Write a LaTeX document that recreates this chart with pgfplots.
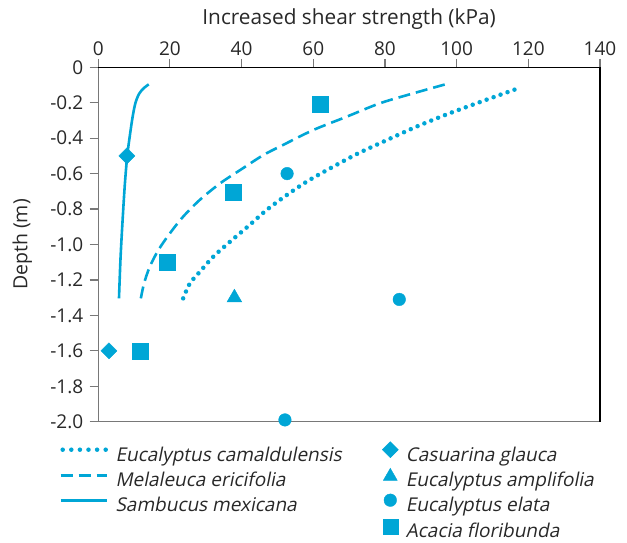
\documentclass[border=0pt]{standalone}
\usepackage{fontspec}
\setmainfont{Open Sans}
\newfontfamily\legfont[FakeSlant=0.2]{Open Sans}
\usepackage{pgfplots}
\pgfplotsset{compat=1.18}
\definecolor{cy}{RGB}{0,166,214}
\definecolor{txt}{RGB}{40,40,40}
\definecolor{ax}{RGB}{120,120,120}
\pgfplotsset{
  lineimg/.style={legend image code/.code={\draw[##1] (0pt,6.7pt) -- (46pt,6.7pt);}},
  dotimg/.style={legend image code/.code={\draw[##1] (2pt,6.7pt) -- (46pt,6.7pt);}},
  markimg/.style={legend image code/.code={\path (0pt,0pt) (16pt,0pt); \draw[##1] plot coordinates {(8pt,6.7pt)};}},
  triimg/.style={legend image code/.code={\path (0pt,0pt) (16pt,0pt); \draw[##1] plot coordinates {(8pt,5.7pt)};}},
}
\begin{document}
\begin{tikzpicture}
\useasboundingbox (0,0) rectangle (627pt,543pt);
\begin{axis}[
  at={(98.2pt,121.3pt)}, anchor=south west,
  scale only axis, width=501.8pt, height=354.4pt,
  xmin=0, xmax=140, ymin=-2, ymax=0,
  clip=false,
  xtick={0,20,40,60,80,100,120,140},
  ytick={-2,-1.8,-1.6,-1.4,-1.2,-1,-0.8,-0.6,-0.4,-0.2,0},
  yticklabels={-2.0,-1.8,-1.6,-1.4,-1.2,-1.0,-0.8,-0.6,-0.4,-0.2,0},
  xtick pos=upper, xticklabel pos=upper,
  ytick pos=left, yticklabel pos=left,
  tick align=outside, major tick length=8.5pt,
  every tick/.style={ax, line width=1.2pt},
  axis line style={ax, line width=1.3pt},
  ticklabel style={font=\fontsize{19}{21}\selectfont, text=txt},
  yticklabel style={xshift=-3pt},
  /pgf/number format/assume math mode=true,
  xlabel={Increased shear strength (kPa)},
  ylabel={Depth (m)},
  every axis x label/.style={at={(axis description cs:0.5,1)}, yshift=42.3pt, anchor=base,
    font=\fontsize{20.8}{23}\selectfont, text=txt},
  every axis y label/.style={at={(axis description cs:0,0.5)}, xshift=-76pt, rotate=90, anchor=center,
    font=\fontsize{19.5}{22}\selectfont, text=txt},
  legend style={draw=none, fill=none, at={(axis description cs:0,0)}, anchor=north west,
    xshift=-38.8pt, yshift=-20pt, inner sep=0pt, outer sep=0pt, row sep=3.2pt,
    font=\fontsize{19}{21}\legfont, text=txt,
    nodes={inner sep=0pt, text height=13.4pt, text depth=4pt},
    /tikz/column 1/.style={column sep=6.6pt},
    /tikz/column 2/.style={column sep=40.3pt},
    /tikz/column 3/.style={column sep=7.4pt}},
  legend cell align=left,
  legend columns=4, transpose legend,
]
\draw[black, line width=1.3pt] (rel axis cs:0,1) -- (rel axis cs:1,1) -- (rel axis cs:1,0);

% legend images
\addlegendimage{cy, line width=4.5pt, line cap=round, dash pattern=on 0pt off 8.6pt, dotimg}
\addlegendentry{Eucalyptus camaldulensis}
\addlegendimage{cy, line width=2.6pt, dash pattern=on 12pt off 6pt, lineimg}
\addlegendentry{Melaleuca ericifolia}
\addlegendimage{cy, line width=2.6pt, lineimg}
\addlegendentry{Sambucus mexicana}
\addlegendimage{empty legend}
\addlegendentry{}
\addlegendimage{only marks, cy, mark=square*, mark size=5.66pt, mark options={rotate=45}, markimg}
\addlegendentry{Casuarina glauca}
\addlegendimage{only marks, cy, mark=triangle*, mark size=8pt, triimg}
\addlegendentry{Eucalyptus amplifolia}
\addlegendimage{only marks, cy, mark=*, mark size=6.3pt, markimg}
\addlegendentry{Eucalyptus elata}
\addlegendimage{only marks, cy, mark=square*, mark size=7.5pt, markimg}
\addlegendentry{Acacia floribunda}

% Eucalyptus camaldulensis (dotted)
\addplot[forget plot, cy, line width=4.5pt, line cap=round, dash pattern=on 0pt off 7.4pt, smooth]
coordinates {(23.7,-1.304) (25.6,-1.219) (28.4,-1.153) (32.1,-1.069) (36.8,-0.984) (41.9,-0.896)
 (47.0,-0.805) (52.6,-0.721) (58.2,-0.645) (64.2,-0.576) (72.1,-0.49) (80.5,-0.411) (88.8,-0.335)
 (97.2,-0.266) (106.0,-0.20) (117.0,-0.12)};
% Melaleuca ericifolia (dashed)
\addplot[forget plot, cy, line width=2.6pt, dash pattern=on 12pt off 6pt, smooth]
coordinates {(11.9,-1.304) (12.8,-1.219) (14.4,-1.125) (16.8,-1.031) (20.0,-0.937) (23.7,-0.843)
 (28.3,-0.749) (34.0,-0.655) (39.6,-0.58) (46.1,-0.495) (51.6,-0.438) (60.0,-0.354) (69.3,-0.279)
 (78.6,-0.203) (87.9,-0.147) (96.9,-0.096)};
% Sambucus mexicana (solid)
\addplot[forget plot, cy, line width=2.6pt, smooth]
coordinates {(5.8,-1.304) (6.2,-1.09) (6.7,-0.90) (7.4,-0.67) (8.1,-0.5) (8.8,-0.39)
 (9.6,-0.28) (10.4,-0.2) (11.4,-0.15) (12.6,-0.12) (14.1,-0.096)};

% Casuarina glauca
\addplot[forget plot, only marks, cy, mark=square*, mark size=5.66pt, mark options={rotate=45}]
coordinates {(8.0,-0.5) (3.0,-1.6)};
% Eucalyptus amplifolia
\addplot[forget plot, only marks, cy, mark=triangle*, mark size=8.5pt]
coordinates {(38,-1.3)};
% Eucalyptus elata
\addplot[forget plot, only marks, cy, mark=*, mark size=6.3pt]
coordinates {(52.7,-0.6) (84,-1.31) (52.1,-1.99)};
% Acacia floribunda
\addplot[forget plot, only marks, cy, mark=square*, mark size=8pt]
coordinates {(62,-0.21) (37.7,-0.705) (19.2,-1.1) (11.7,-1.6)};
\end{axis}
\end{tikzpicture}
\end{document}
